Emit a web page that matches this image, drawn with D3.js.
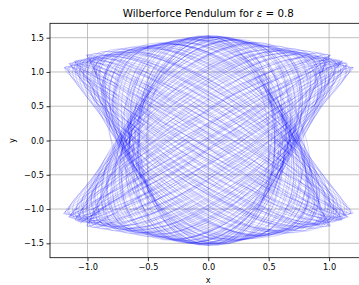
<!DOCTYPE html>
<html>
<head>
<meta charset="utf-8">
<script src="https://cdn.jsdelivr.net/npm/d3@7"></script>
<style>
  body { margin: 0; background: #fff; }
  text { font-family: "DejaVu Sans", sans-serif; fill: #000; }
</style>
</head>
<body>
<svg id="chart" width="359" height="285"></svg>
<script>
// one entry per swing of the pendulum: phase lag of y behind x (degrees) and the two amplitudes
const phaseDeg = [
  0, 9, 20, 28, 41, 50, 58, 71, 80, 92, 101, 113, 121, 134, 142, 151, 163, 172,
  184, 193, 205, 214, 222, 236, 244, 255, 263, 276, 285, 293, 306, 314, 327, 335, 344, 356,
  365, 373, 385, 394, 405, 414, 426, 435, 446, 457, 466, 478, 487, 499, 507, 518, 528, 537,
  549, 558, 570, 579, 590, 601, 610, 621, 630, 641, 650, 661, 671, 680, 692, 700, 710, 719,
  723, 735, 743, 756, 764, 775, 783, 797, 804, 816, 824, 836, 845, 857, 865, 877, 886, 899,
  907, 916, 928, 937, 947, 959, 968, 978, 987, 999, 1008, 1018, 1029, 1038, 1050, 1058, 1068, 1077,
  1087, 1095, 1106, 1116, 1127, 1135, 1147, 1156, 1167, 1178, 1186, 1198, 1207, 1219, 1227, 1238, 1247, 1259,
  1268, 1276, 1288, 1297, 1307, 1319, 1328, 1338, 1347, 1358, 1367, 1378, 1389, 1398, 1409, 1418, 1428, 1437
];
const xAmp = [
  1.20, 1.20, 1.17, 1.14, 1.04, 0.97, 0.91, 0.77, 0.68, 0.63, 0.69, 0.81, 0.90, 1.00, 1.07, 1.13, 1.18, 1.20,
  1.19, 1.18, 1.15, 1.10, 1.04, 0.92, 0.85, 0.73, 0.66, 0.65, 0.73, 0.81, 0.94, 1.00, 1.10, 1.15, 1.18, 1.20,
  1.11, 1.09, 1.06, 1.02, 0.95, 0.89, 0.78, 0.70, 0.56, 0.58, 0.71, 0.82, 0.90, 0.97, 1.02, 1.07, 1.10, 1.11,
  1.11, 1.09, 1.04, 0.99, 0.91, 0.83, 0.75, 0.60, 0.55, 0.61, 0.75, 0.85, 0.93, 0.98, 1.05, 1.08, 1.10, 1.11,
  1.01, 1.00, 0.97, 0.93, 0.89, 0.82, 0.76, 0.68, 0.64, 0.80, 0.84, 0.86, 0.88, 0.92, 0.94, 0.97, 1.00, 1.01,
  1.01, 0.99, 0.96, 0.93, 0.88, 0.83, 0.81, 0.78, 0.50, 0.53, 0.66, 0.77, 0.85, 0.90, 0.96, 0.98, 1.00, 1.01,
  1.15, 1.14, 1.10, 1.05, 0.97, 0.91, 0.78, 0.69, 0.55, 0.62, 0.71, 0.84, 0.92, 1.01, 1.06, 1.12, 1.14, 1.16,
  1.15, 1.13, 1.09, 1.04, 0.97, 0.87, 0.77, 0.67, 0.55, 0.62, 0.72, 0.84, 0.94, 1.00, 1.08, 1.12, 1.15, 1.16
];
const yAmp = [
  1.07, 1.07, 1.10, 1.14, 1.22, 1.28, 1.33, 1.44, 1.50, 1.54, 1.49, 1.41, 1.34, 1.26, 1.20, 1.14, 1.09, 1.07,
  1.07, 1.08, 1.12, 1.17, 1.23, 1.32, 1.38, 1.47, 1.52, 1.53, 1.47, 1.41, 1.31, 1.26, 1.17, 1.12, 1.09, 1.07,
  1.16, 1.18, 1.21, 1.24, 1.30, 1.35, 1.43, 1.48, 1.53, 1.53, 1.47, 1.40, 1.35, 1.28, 1.24, 1.20, 1.17, 1.16,
  1.16, 1.18, 1.23, 1.27, 1.33, 1.40, 1.45, 1.51, 1.54, 1.50, 1.45, 1.38, 1.32, 1.28, 1.22, 1.19, 1.17, 1.16,
  1.25, 1.26, 1.28, 1.32, 1.35, 1.40, 1.44, 1.48, 1.52, 1.44, 1.41, 1.40, 1.38, 1.35, 1.33, 1.28, 1.26, 1.25,
  1.25, 1.26, 1.29, 1.32, 1.36, 1.42, 1.44, 1.46, 1.52, 1.52, 1.49, 1.44, 1.38, 1.34, 1.30, 1.28, 1.26, 1.25,
  1.13, 1.14, 1.18, 1.23, 1.30, 1.34, 1.42, 1.47, 1.52, 1.50, 1.46, 1.39, 1.33, 1.26, 1.22, 1.16, 1.14, 1.12,
  1.13, 1.15, 1.19, 1.23, 1.30, 1.37, 1.43, 1.48, 1.52, 1.50, 1.45, 1.39, 1.32, 1.27, 1.20, 1.16, 1.13, 1.12
];
const xTicks = [-1.0, -0.5, 0.0, 0.5, 1.0];
const yTicks = [-1.5, -1.0, -0.5, 0.0, 0.5, 1.0, 1.5];
const epsilon = "0.8";

const svg = d3.select("#chart");
const padding = { top: 23.3, left: 50, bottom: 257.7 };
const plotRight = 366.6;

const xScale = d3.scaleLinear().domain([-1.3104, 1.3104]).range([padding.left, plotRight]);
const yScale = d3.scaleLinear().domain([-1.71, 1.71]).range([padding.bottom, padding.top]);

const fmt = (v) => d3.format(".1f")(v).replace("-", "\u2212");

// grid
svg.append("g")
  .selectAll("line")
  .data(xTicks)
  .join("line")
  .attr("x1", (d) => xScale(d))
  .attr("x2", (d) => xScale(d))
  .attr("y1", padding.top)
  .attr("y2", padding.bottom)
  .attr("stroke", "#b0b0b0")
  .attr("stroke-width", 0.8);
svg.append("g")
  .selectAll("line")
  .data(yTicks)
  .join("line")
  .attr("x1", padding.left)
  .attr("x2", plotRight)
  .attr("y1", (d) => yScale(d))
  .attr("y2", (d) => yScale(d))
  .attr("stroke", "#b0b0b0")
  .attr("stroke-width", 0.8);

// trajectory, swing by swing
const steps = 48;
const points = [];
for (let k = 0; k < phaseDeg.length - 1; k++) {
  for (let j = 0; j < steps; j++) {
    const f = j / steps;
    const s = f * 2 * Math.PI;
    const ax = xAmp[k] + (xAmp[k + 1] - xAmp[k]) * f;
    const ay = yAmp[k] + (yAmp[k + 1] - yAmp[k]) * f;
    const ph = ((phaseDeg[k] + (phaseDeg[k + 1] - phaseDeg[k]) * f) * Math.PI) / 180;
    points.push([ax * Math.cos(s), ay * Math.cos(s + ph)]);
  }
}
svg.append("clipPath").attr("id", "clip")
  .append("rect")
  .attr("x", padding.left).attr("y", padding.top)
  .attr("width", plotRight - padding.left).attr("height", padding.bottom - padding.top);
svg.append("path")
  .datum(points)
  .attr("clip-path", "url(#clip)")
  .attr("d", d3.line().x((d) => xScale(d[0])).y((d) => yScale(d[1])))
  .attr("fill", "none")
  .attr("stroke", "#0000ff")
  .attr("stroke-opacity", 0.16)
  .attr("stroke-width", 1)
  .attr("stroke-linejoin", "round");

// axes
const xAxis = svg.append("g")
  .attr("transform", `translate(0,${padding.bottom})`)
  .call(d3.axisBottom(xScale).tickValues(xTicks).tickFormat(fmt).tickSize(3.5).tickPadding(2.5));
const yAxis = svg.append("g")
  .attr("transform", `translate(${padding.left},0)`)
  .call(d3.axisLeft(yScale).tickValues(yTicks).tickFormat(fmt).tickSize(3.5).tickPadding(2.5));
[xAxis, yAxis].forEach((a) => {
  a.selectAll("text").attr("font-size", 8.2).attr("font-family", "DejaVu Sans").attr("fill", "#000");
  a.selectAll(".tick line").attr("stroke", "#000").attr("stroke-width", 0.8);
  a.select(".domain").remove();
});

// spines
svg.append("rect")
  .attr("x", padding.left).attr("y", padding.top)
  .attr("width", plotRight - padding.left).attr("height", padding.bottom - padding.top)
  .attr("fill", "none").attr("stroke", "#000").attr("stroke-width", 0.8);

// labels
svg.append("text").attr("x", 208.3).attr("y", 283).attr("text-anchor", "middle").attr("font-size", 8.2).text("x");
svg.append("text").attr("transform", "translate(15,140.5) rotate(-90)").attr("text-anchor", "middle").attr("font-size", 8.2).text("y");
const title = svg.append("text").attr("x", 208.3).attr("y", 16.5).attr("text-anchor", "middle").attr("font-size", 10.3);
title.append("tspan").text("Wilberforce Pendulum for ");
title.append("tspan").attr("font-style", "italic").text("\u03b5");
title.append("tspan").text(" = " + epsilon);
</script>
</body>
</html>
